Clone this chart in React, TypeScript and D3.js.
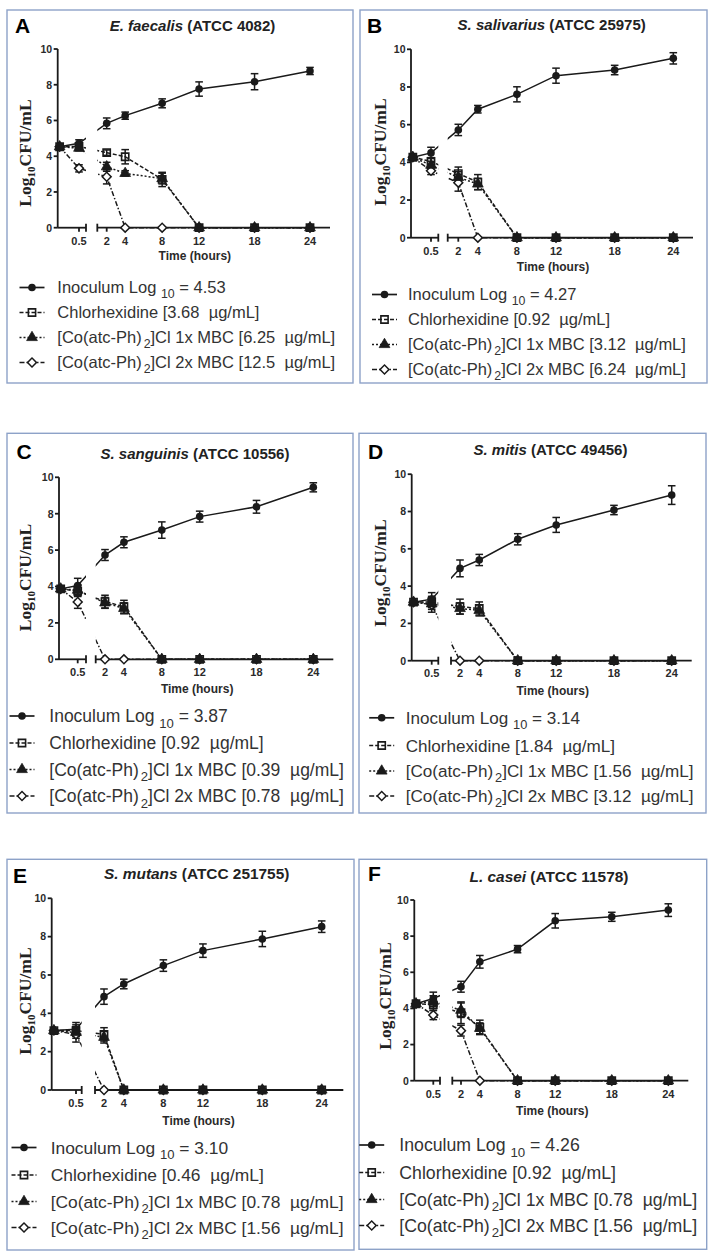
import React from 'react';
import * as d3 from 'd3';

const times = [0, 0.5, 2, 4, 8, 12, 18, 24];
const xTicks = [0.5, 2, 4, 8, 12, 18, 24];
const yTicks = [0, 2, 4, 6, 8, 10];
const panelLetters = ['A', 'B', 'C', 'D', 'E', 'F'];
const speciesNames = ['E. faecalis', 'S. salivarius', 'S. sanguinis', 'S. mitis', 'S. mutans', 'L. casei'];
const strainCodes = ['(ATCC 4082)', '(ATCC 25975)', '(ATCC 10556)', '(ATCC 49456)', '(ATCC 251755)', '(ATCC 11578)'];
const inoculumLogs = ['4.53', '4.27', '3.87', '3.14', '3.10', '4.26'];
const chlorDoses = ['3.68', '0.92', '0.92', '1.84', '0.46', '0.92'];
const mbc1Doses = ['6.25', '3.12', '0.39', '1.56', '0.78', '0.78'];
const mbc2Doses = ['12.5', '6.24', '0.78', '3.12', '1.56', '1.56'];

// mean log10 CFU/mL per panel (A..F) at each time point
const inoculumMeans = [
  [4.53, 4.72, 5.84, 6.27, 6.96, 7.76, 8.17, 8.77],
  [4.27, 4.5, 5.72, 6.82, 7.61, 8.6, 8.9, 9.52],
  [3.87, 4.05, 5.73, 6.43, 7.1, 7.84, 8.38, 9.45],
  [3.14, 3.3, 4.95, 5.4, 6.51, 7.28, 8.08, 8.88],
  [3.1, 3.17, 4.87, 5.53, 6.49, 7.27, 7.88, 8.52],
  [4.26, 4.55, 5.2, 6.58, 7.28, 8.85, 9.07, 9.44],
];
const inoculumErrs = [
  [0, 0.2, 0.3, 0.2, 0.25, 0.4, 0.45, 0.2],
  [0, 0.3, 0.3, 0.2, 0.4, 0.4, 0.25, 0.3],
  [0, 0.4, 0.3, 0.3, 0.45, 0.3, 0.35, 0.25],
  [0, 0.35, 0.45, 0.3, 0.3, 0.4, 0.25, 0.5],
  [0, 0.35, 0.4, 0.25, 0.3, 0.35, 0.4, 0.3],
  [0, 0.35, 0.3, 0.35, 0.2, 0.4, 0.25, 0.35],
];
const chlorMeans = [
  [4.53, 4.55, 4.2, 3.97, 2.7, 0, 0, 0],
  [4.27, 4.05, 3.4, 2.95, 0, 0, 0, 0],
  [3.87, 3.75, 3.17, 2.89, 0, 0, 0, 0],
  [3.14, 3.15, 2.9, 2.8, 0, 0, 0, 0],
  [3.1, 3.1, 2.9, 0, 0, 0, 0, 0],
  [4.26, 4.2, 3.76, 2.95, 0, 0, 0, 0],
];
const chlorErrs = [
  [0, 0.15, 0.15, 0.4, 0.4, 0, 0, 0],
  [0, 0.2, 0.35, 0.4, 0, 0, 0, 0],
  [0, 0.3, 0.35, 0.35, 0, 0, 0, 0],
  [0, 0.3, 0.4, 0.35, 0, 0, 0, 0],
  [0, 0.3, 0.35, 0, 0, 0, 0, 0],
  [0, 0.3, 0.6, 0.4, 0, 0, 0, 0],
];
const mbc1Means = [
  [4.53, 4.45, 3.41, 3.04, 2.75, 0, 0, 0],
  [4.27, 3.85, 3.2, 2.85, 0, 0, 0, 0],
  [3.87, 3.8, 3.1, 2.8, 0, 0, 0, 0],
  [3.14, 3.05, 2.8, 2.7, 0, 0, 0, 0],
  [3.1, 3.0, 2.75, 0, 0, 0, 0, 0],
  [4.26, 4.4, 3.9, 2.9, 0, 0, 0, 0],
];
const mbc1Errs = [
  [0, 0.15, 0.25, 0.15, 0.3, 0, 0, 0],
  [0, 0.2, 0.3, 0.3, 0, 0, 0, 0],
  [0, 0.3, 0.3, 0.3, 0, 0, 0, 0],
  [0, 0.3, 0.3, 0.3, 0, 0, 0, 0],
  [0, 0.3, 0.3, 0, 0, 0, 0, 0],
  [0, 0.3, 0.4, 0.3, 0, 0, 0, 0],
];
const mbc2Means = [
  [4.53, 3.32, 2.85, 0, 0, 0, 0, 0],
  [4.27, 3.55, 2.92, 0, 0, 0, 0, 0],
  [3.87, 3.15, 0, 0, 0, 0, 0, 0],
  [3.14, 3.0, 0, 0, 0, 0, 0, 0],
  [3.1, 2.9, 0, 0, 0, 0, 0, 0],
  [4.26, 3.63, 2.77, 0, 0, 0, 0, 0],
];
const mbc2Errs = [
  [0, 0.2, 0.4, 0, 0, 0, 0, 0],
  [0, 0.2, 0.45, 0, 0, 0, 0, 0],
  [0, 0.35, 0, 0, 0, 0, 0, 0],
  [0, 0.4, 0, 0, 0, 0, 0, 0],
  [0, 0.4, 0, 0, 0, 0, 0, 0],
  [0, 0.25, 0.3, 0, 0, 0, 0, 0],
];

// layout of each panel (pixels)
type Geo = {
  box: number[]; letter: number[]; title: number[]; titleSize: number;
  x0: number; y10: number; y0: number; xHalf: number; b1: number; b2: number;
  x2: number; x24: number; xe: number; tickY: number; timeY: number; ylab: number[];
  legSym: number; legText: number; legRows: number[]; legSize: number;
};
const geos: Geo[] = [
  { box: [7, 10, 353, 383], letter: [15, 25.7], title: [192.5, 26], titleSize: 15,
    x0: 57.7, y10: 49, y0: 227.7, xHalf: 79, b1: 86, b2: 97.3, x2: 106.7, x24: 310, xe: 330,
    tickY: 240.7, timeY: 256, ylab: [25, 153], legSym: 32, legText: 57.3,
    legRows: [287.5, 312.5, 337.5, 362.5], legSize: 16.5 },
  { box: [360, 10, 707, 383], letter: [367, 25], title: [551.7, 25], titleSize: 15,
    x0: 411, y10: 49.3, y0: 237.7, xHalf: 431, b1: 438.3, b2: 447.7, x2: 458.3, x24: 673.3, xe: 693,
    tickY: 250.7, timeY: 266.7, ylab: [380, 152], legSym: 384.5, legText: 408,
    legRows: [294.5, 319.5, 344.5, 369.5], legSize: 16.5 },
  { box: [7, 433.3, 353, 813], letter: [16.5, 451.7], title: [195, 453.3], titleSize: 15,
    x0: 59, y10: 477.3, y0: 659.3, xHalf: 77.7, b1: 86, b2: 95.7, x2: 105, x24: 313.3, xe: 333.3,
    tickY: 671.7, timeY: 688.3, ylab: [25, 577.5], legSym: 22, legText: 49.3,
    legRows: [716, 743, 769.5, 796], legSize: 17.5 },
  { box: [359, 433.3, 706, 813], letter: [368, 451.7], title: [550.5, 450], titleSize: 15,
    x0: 411.7, y10: 474.2, y0: 660.7, xHalf: 431.7, b1: 438.3, b2: 451, x2: 460, x24: 671.7, xe: 691.7,
    tickY: 673.3, timeY: 690.7, ylab: [380, 573], legSym: 381.7, legText: 405.7,
    legRows: [717.8, 745.5, 771, 796], legSize: 17.1 },
  { box: [7, 859.3, 354, 1250], letter: [13, 875], title: [196.7, 873.3], titleSize: 15.4,
    x0: 51.7, y10: 898.3, y0: 1090, xHalf: 76, b1: 81.7, b2: 95, x2: 104, x24: 321.7, xe: 343.3,
    tickY: 1103.3, timeY: 1121, ylab: [25, 1001], legSym: 24, legText: 50.7,
    legRows: [1147.5, 1175, 1201.5, 1227.5], legSize: 17.4 },
  { box: [359, 859.3, 706.7, 1249.3], letter: [368, 873.3], title: [549, 876.7], titleSize: 15.4,
    x0: 414.3, y10: 900, y0: 1080.7, xHalf: 433.3, b1: 440, b2: 452.3, x2: 461, x24: 668.3, xe: 688.3,
    tickY: 1094.3, timeY: 1110.7, ylab: [385, 996], legSym: 371.7, legText: 399.3,
    legRows: [1145, 1172.5, 1199.5, 1225.5], legSize: 17.7 },
];

const SANS = "'Liberation Sans', Arial, sans-serif";
const SERIF = "'Liberation Serif', 'Times New Roman', serif";
const INK = '#1a1a1a';
const NB = '\u00a0';

const squarePath = d3.symbol(d3.symbolSquare, 52)() as string;
const trianglePath = d3.symbol(d3.symbolTriangle, 50)() as string;
const diamondPath = d3.symbol(d3.symbolSquare, 40)() as string;

function Marker({ kind, x, y }: { kind: string; x: number; y: number }) {
  if (kind === 'circle') return <circle cx={x} cy={y} r={3.8} fill={INK} />;
  if (kind === 'square')
    return <path d={squarePath} transform={`translate(${x},${y})`} fill="none" stroke={INK} strokeWidth={1.6} />;
  if (kind === 'triangle')
    return <path d={trianglePath} transform={`translate(${x},${y})`} fill={INK} stroke={INK} strokeWidth={0.8} />;
  return <path d={diamondPath} transform={`translate(${x},${y}) rotate(45)`} fill="#fff" stroke={INK} strokeWidth={1.5} />;
}

function Panel({ idx, g }: { idx: number; g: Geo }) {
  const s1 = d3.scaleLinear().domain([-0.05, 0.5]).range([g.x0, g.xHalf]);
  const s2 = d3.scaleLinear().domain([2, 24]).range([g.x2, g.x24]);
  const xs = (t: number) => (t <= 0.5 ? s1(t) : s2(t));
  const ys = d3.scaleLinear().domain([0, 10]).range([g.y0, g.y10]);
  const series = [
    { key: 'mbc2', means: mbc2Means[idx], errs: mbc2Errs[idx], dash: '5,2,1.5,2', kind: 'diamond' },
    { key: 'chlor', means: chlorMeans[idx], errs: chlorErrs[idx], dash: '4,2', kind: 'square' },
    { key: 'mbc1', means: mbc1Means[idx], errs: mbc1Errs[idx], dash: '2,2', kind: 'triangle' },
    { key: 'inoc', means: inoculumMeans[idx], errs: inoculumErrs[idx], dash: '', kind: 'circle' },
  ];
  const line = d3.line<number>().x((_, j) => xs(times[j])).y((d) => ys(d));
  const clipId = `segclip${idx}`;
  const [bx0, by0, bx1, by1] = g.box;
  const legendSeries = [series[3], series[1], series[2], series[0]];
  const capW = 3.8;
  const sub = g.legSize * 0.75;
  const shift = g.legSize * 0.3;
  return (
    <g>
      <rect x={bx0} y={by0} width={bx1 - bx0} height={by1 - by0} fill="#fff" stroke="#8da2c8" strokeWidth={1.4} />
      <defs>
        <clipPath id={clipId}>
          <rect x={g.x0 - 6} y={g.y10 - 30} width={g.b1 - g.x0 + 6} height={g.y0 - g.y10 + 40} />
          <rect x={g.b2} y={g.y10 - 30} width={g.xe - g.b2 + 6} height={g.y0 - g.y10 + 40} />
        </clipPath>
      </defs>
      <text x={g.letter[0]} y={g.letter[1] + 7.5} fontFamily={SANS} fontWeight="bold" fontSize={21} fill="#000">
        {panelLetters[idx]}
      </text>
      <text x={g.title[0]} y={g.title[1] + 5.4} textAnchor="middle" fontFamily={SANS} fontWeight="bold"
        fontSize={g.titleSize} fill="#222">
        <tspan fontStyle="italic">{speciesNames[idx]}</tspan>
        <tspan>{NB + strainCodes[idx]}</tspan>
      </text>
      {/* y label */}
      <text x={g.ylab[0]} y={g.ylab[1]} transform={`rotate(-90, ${g.ylab[0]}, ${g.ylab[1]})`} textAnchor="middle"
        dy="0.35em" fontFamily={SERIF} fontWeight="bold" fontSize={17.5} fill="#222">
        <tspan>Log</tspan>
        <tspan fontSize={11} dy={4}>10</tspan>
        <tspan dy={-4}>CFU/mL</tspan>
      </text>
      {/* axes */}
      <g stroke={INK} strokeWidth={1.8} fill="none">
        <line x1={g.x0} x2={g.x0} y1={g.y10} y2={g.y0} />
        <line x1={g.x0} x2={g.b1} y1={g.y0} y2={g.y0} />
        <line x1={g.b2} x2={g.xe} y1={g.y0} y2={g.y0} />
        <line x1={g.b1} x2={g.b1} y1={g.y0 - 4} y2={g.y0 + 4} />
        <line x1={g.b2} x2={g.b2} y1={g.y0 - 4} y2={g.y0 + 4} />
        {yTicks.map((v) => (
          <line key={'yt' + v} x1={g.x0 - 4} x2={g.x0} y1={ys(v)} y2={ys(v)} />
        ))}
        {xTicks.map((t) => (
          <line key={'xt' + t} x1={xs(t)} x2={xs(t)} y1={g.y0} y2={g.y0 + 4} />
        ))}
      </g>
      {yTicks.map((v) => (
        <text key={'yl' + v} x={g.x0 - 5.5} y={ys(v) + 3.8} textAnchor="end" fontFamily={SANS} fontWeight="bold"
          fontSize={10.5} fill="#2a2a2a">{v}</text>
      ))}
      {xTicks.map((t) => (
        <text key={'xl' + t} x={xs(t)} y={g.tickY + 4} textAnchor="middle" fontFamily={SANS} fontWeight="bold"
          fontSize={11} fill="#2a2a2a">{t}</text>
      ))}
      <text x={(g.x0 + g.xe) / 2 + 1} y={g.timeY + 4.3} textAnchor="middle" fontFamily={SANS} fontWeight="bold"
        fontSize={12} fill="#2a2a2a">Time (hours)</text>
      {/* lines */}
      <g clipPath={`url(#${clipId})`}>
        {series.map((s) => (
          <path key={'ln' + s.key} d={line(s.means) as string} fill="none" stroke={INK} strokeWidth={1.5}
            strokeDasharray={s.dash || undefined} />
        ))}
      </g>
      {/* error bars */}
      <g stroke={INK} strokeWidth={1.5}>
        {series.map((s) =>
          s.means.map((m, j) =>
            s.errs[j] > 0 ? (
              <g key={'eb' + s.key + j}>
                <line x1={xs(times[j])} x2={xs(times[j])} y1={ys(m - s.errs[j])} y2={ys(m + s.errs[j])} />
                <line x1={xs(times[j]) - capW} x2={xs(times[j]) + capW} y1={ys(m - s.errs[j])} y2={ys(m - s.errs[j])} />
                <line x1={xs(times[j]) - capW} x2={xs(times[j]) + capW} y1={ys(m + s.errs[j])} y2={ys(m + s.errs[j])} />
              </g>
            ) : null
          )
        )}
      </g>
      {/* markers */}
      {series.map((s) =>
        s.means.map((m, j) => <Marker key={'mk' + s.key + j} kind={s.kind} x={xs(times[j])} y={ys(m)} />)
      )}
      {/* legend */}
      {legendSeries.map((s, r) => {
        const cy = g.legRows[r];
        return (
          <g key={'lg' + s.key}>
            <line x1={g.legSym - 12.5} x2={g.legSym + 12.5} y1={cy} y2={cy} stroke={INK} strokeWidth={1.7}
              strokeDasharray={s.dash || undefined} />
            <Marker kind={s.kind} x={g.legSym} y={cy} />
          </g>
        );
      })}
      <g fontFamily={SANS} fontSize={g.legSize} fill="#333">
        <text x={g.legText} y={g.legRows[0] + g.legSize * 0.36}>
          <tspan>{'Inoculum Log' + NB}</tspan>
          <tspan fontSize={sub} dy={shift}>10</tspan>
          <tspan dy={-shift}>{NB + '= ' + inoculumLogs[idx]}</tspan>
        </text>
        <text x={g.legText} y={g.legRows[1] + g.legSize * 0.36}>
          {'Chlorhexidine [' + chlorDoses[idx] + NB + NB + '\u00b5g/mL]'}
        </text>
        <text x={g.legText} y={g.legRows[2] + g.legSize * 0.36}>
          <tspan>[Co(atc-Ph)</tspan>
          <tspan fontSize={sub} dx={2} dy={shift}>2</tspan>
          <tspan dy={-shift}>{']Cl 1x MBC [' + mbc1Doses[idx] + NB + NB + '\u00b5g/mL]'}</tspan>
        </text>
        <text x={g.legText} y={g.legRows[3] + g.legSize * 0.36}>
          <tspan>[Co(atc-Ph)</tspan>
          <tspan fontSize={sub} dx={2} dy={shift}>2</tspan>
          <tspan dy={-shift}>{']Cl 2x MBC [' + mbc2Doses[idx] + NB + NB + '\u00b5g/mL]'}</tspan>
        </text>
      </g>
    </g>
  );
}

export default function App() {
  return (
    <svg width={714} height={1257} style={{ position: 'absolute', left: 0, top: 0 }}>
      <rect x={0} y={0} width={714} height={1257} fill="#fff" />
      {geos.map((g, i) => (
        <Panel key={i} idx={i} g={g} />
      ))}
    </svg>
  );
}
